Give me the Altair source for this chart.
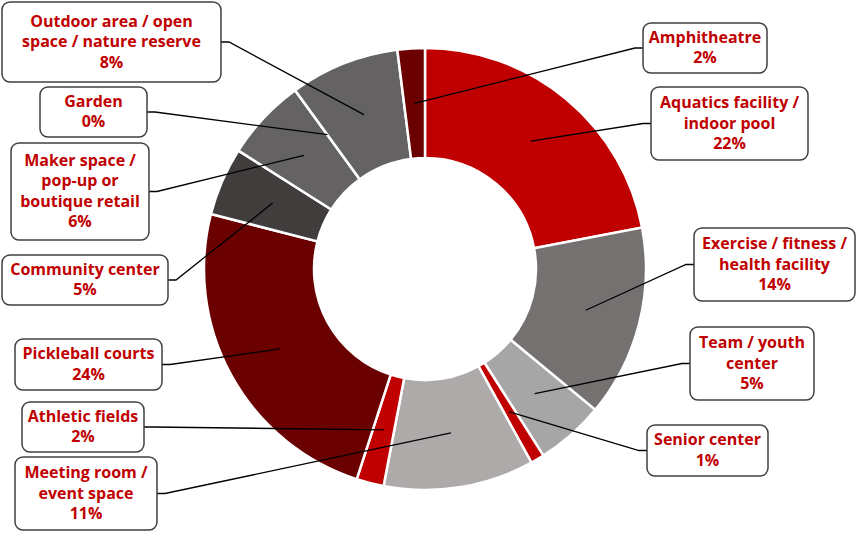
import math

import altair as alt
import pandas as pd

# Share of respondents by facility type, clockwise from 12 o'clock
categories = [
    "Aquatics facility / indoor pool",
    "Exercise / fitness / health facility",
    "Team / youth center",
    "Senior center",
    "Meeting room / event space",
    "Athletic fields",
    "Pickleball courts",
    "Community center",
    "Maker space / pop-up or boutique retail",
    "Garden",
    "Outdoor area / open space / nature reserve",
    "Amphitheatre",
]
values = [22, 14, 5, 1, 11, 2, 24, 5, 6, 0, 8, 2]

# Wrapped label text for each category
label_names = [
    "Aquatics facility /\nindoor pool",
    "Exercise / fitness /\nhealth facility",
    "Team / youth\ncenter",
    "Senior center",
    "Meeting room /\nevent space",
    "Athletic fields",
    "Pickleball courts",
    "Community center",
    "Maker space /\npop-up or\nboutique retail",
    "Garden",
    "Outdoor area / open\nspace / nature reserve",
    "Amphitheatre",
]

slice_colors = [
    "#C00000", "#767171", "#A6A6A6", "#C00000", "#AEAAAA", "#C00000",
    "#6B0000", "#403D3C", "#646262", "#646262", "#646262", "#6B0000",
]

# Callout box layout (left, top, right, bottom) in pixels
label_boxes = [
    (651, 87, 808, 160),
    (694, 228, 855, 301),
    (690, 327, 814, 400),
    (647, 425, 768, 476),
    (15, 457, 157, 530),
    (22, 402, 144, 452),
    (15, 339, 162, 390),
    (2, 255, 168, 305),
    (11, 143, 149, 240),
    (40, 87, 147, 137),
    (2, 2, 221, 82),
    (643, 23, 767, 73),
]

W, H = 856, 533
CX, CY = 425, 269
R_IN, R_OUT = 111, 221
R_LEADER = 166
STUB = 8
LINE_H = 20.5

rows = []
line_rows = []
cum = 0.0
total = float(sum(values))
for i, (cat, v, name, box) in enumerate(zip(categories, values, label_names, label_boxes)):
    mid = 2 * math.pi * (cum + v / 2) / total
    cum += v
    x0, y0, x1, y1 = box
    bx, by = (x0 + x1) / 2, (y0 + y1) / 2
    label = f"{name}\n{v}%"
    n_lines = label.count("\n") + 1
    # first-line position so the whole text block is centred in its box
    ty0 = by - (n_lines - 1) * LINE_H / 2
    rows.append(dict(idx=i, category=cat, value=v, label=label,
                     x0=x0, y0=y0, x1=x1, y1=y1, bx=bx, by=by, ty=ty0))
    ex = x0 if bx > CX else x1
    sx = ex - STUB if bx > CX else ex + STUB
    tx = CX + R_LEADER * math.sin(mid)
    ty = CY - R_LEADER * math.cos(mid)
    for step, (px, py) in enumerate([(ex, by), (sx, by), (tx, ty)]):
        line_rows.append(dict(category=cat, step=step, px=px, py=py))

df = pd.DataFrame(rows)
lines_df = pd.DataFrame(line_rows)

xs = alt.Scale(domain=[0, W], range=[0, W], nice=False, zero=False)
ys = alt.Scale(domain=[0, H], range=[0, H], nice=False, zero=False)

arcs = alt.Chart(df).mark_arc(
    innerRadius=R_IN, outerRadius=R_OUT, stroke="white", strokeWidth=2.5
).encode(
    theta=alt.Theta("value:Q", stack=True),
    color=alt.Color("category:N", scale=alt.Scale(domain=categories, range=slice_colors), legend=None),
    order=alt.Order("idx:Q"),
    x=alt.value(CX),
    y=alt.value(CY),
)

leaders = alt.Chart(lines_df).mark_line(color="black", strokeWidth=1.3).encode(
    x=alt.X("px:Q", scale=xs, axis=None),
    y=alt.Y("py:Q", scale=ys, axis=None),
    detail="category:N",
    order="step:Q",
)

boxes = alt.Chart(df).mark_rect(
    fill="white", stroke="#404040", strokeWidth=1.5, cornerRadius=8
).encode(
    x=alt.X("x0:Q", scale=xs, axis=None),
    x2="x1:Q",
    y=alt.Y("y0:Q", scale=ys, axis=None),
    y2="y1:Q",
)

texts = alt.Chart(df).mark_text(
    font="Open Sans", fontSize=16, fontWeight="bold", color="#C00000",
    lineBreak="\n", lineHeight=LINE_H, align="center", baseline="middle",
).encode(
    x=alt.X("bx:Q", scale=xs, axis=None),
    y=alt.Y("ty:Q", scale=ys, axis=None),
    text="label:N",
)

chart = alt.layer(arcs, leaders, boxes, texts).properties(
    width=W, height=H, padding=0, autosize=alt.AutoSizeParams(type="none")
).configure_view(stroke=None)

chart.save("out.html", embed_options={"renderer": "svg", "actions": False})
